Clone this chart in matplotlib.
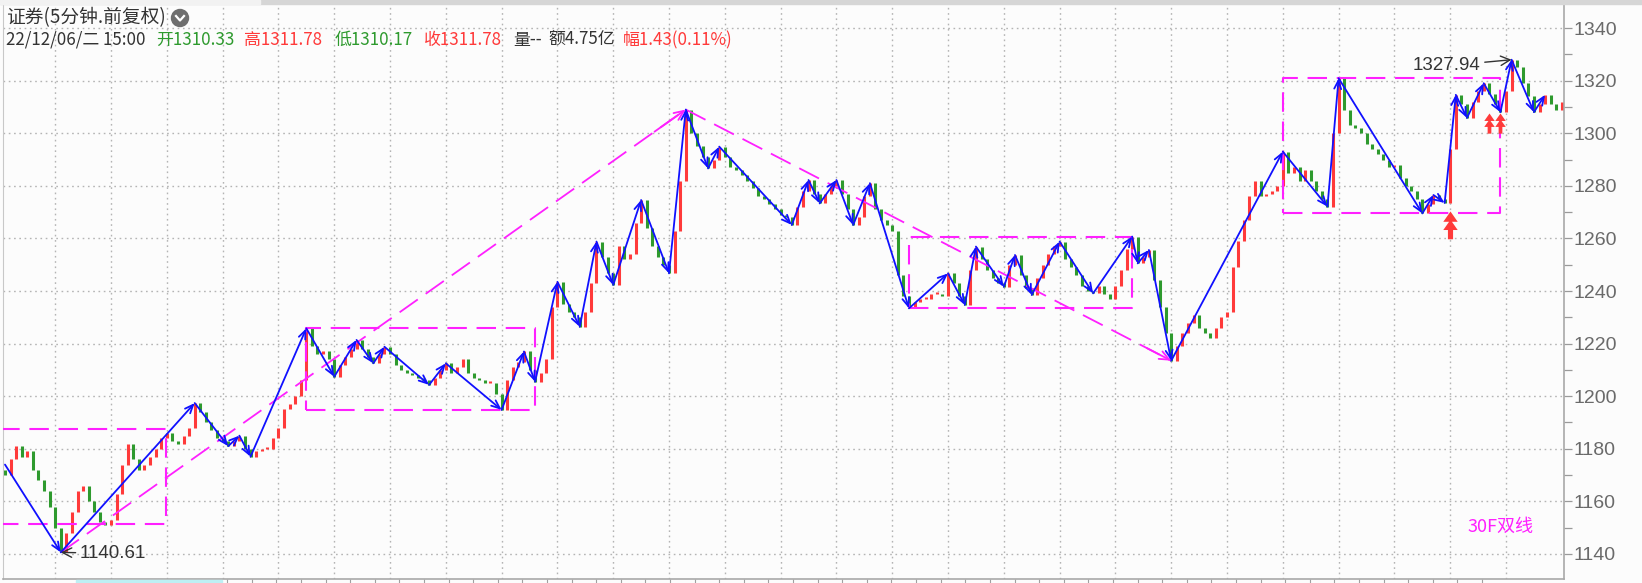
import numpy as np
import matplotlib
matplotlib.use("Agg")
import matplotlib.pyplot as plt
from matplotlib.path import Path
from matplotlib.patches import Circle, Rectangle
from matplotlib.lines import Line2D
from matplotlib.transforms import IdentityTransform

# ---------------- data ----------------
open0 = 1172.0
close = [
    1170, 1176, 1181, 1177, 1179, 1172, 1168, 1164, 1158, 1150,
    1140.61, 1148, 1156, 1164, 1166, 1160, 1156, 1152, 1151, 1153,
    1163, 1174, 1182, 1176, 1172, 1174, 1177, 1180, 1184, 1186,
    1183, 1182, 1185, 1188, 1197.4, 1194, 1190, 1187, 1184, 1183,
    1181, 1183, 1185, 1180, 1177, 1179, 1180, 1180, 1184, 1188,
    1195, 1197, 1200, 1206, 1225.8, 1219, 1216, 1217, 1214, 1207.4,
    1212, 1215, 1218, 1221.4, 1218, 1215, 1212.5, 1216, 1218.8, 1216,
    1212, 1210, 1209, 1208, 1207, 1206, 1204.3, 1207, 1210, 1212.5,
    1209, 1211, 1214, 1209, 1207, 1206, 1205, 1205, 1201, 1194.8,
    1206, 1211, 1213, 1217, 1210, 1205.5, 1209, 1214, 1234, 1243.5,
    1235, 1232, 1230, 1226.4, 1232, 1243, 1258.8, 1253, 1247, 1242.3,
    1257, 1252, 1254, 1266, 1274.6, 1264, 1257, 1253, 1250, 1246.7,
    1263, 1282, 1309, 1300, 1295, 1291, 1286.6, 1290, 1294.9, 1291,
    1287, 1286, 1284, 1282, 1279, 1276, 1275, 1273, 1271, 1269,
    1268, 1265.1, 1272, 1278, 1282.2, 1277, 1273.3, 1277, 1280, 1282.2,
    1277, 1271, 1265.1, 1268, 1276, 1281, 1271, 1267, 1265, 1263,
    1246, 1238, 1233.4, 1236, 1237, 1237, 1239, 1239, 1238, 1246.7,
    1243, 1238, 1234.7, 1248, 1256.9, 1252, 1248, 1245, 1243, 1241.6,
    1250, 1253.7, 1246, 1241, 1238.5, 1245, 1250, 1254, 1257, 1258.8,
    1252, 1249, 1246, 1242, 1240, 1239.1, 1242, 1239, 1237, 1242,
    1248, 1256, 1260.7, 1250.5, 1253, 1255.6, 1244, 1234, 1224, 1213.5,
    1219, 1224, 1228, 1231, 1226, 1224, 1222, 1226, 1230, 1232,
    1249, 1259, 1267, 1276, 1282, 1276, 1277, 1278, 1280, 1293,
    1285, 1287, 1282, 1286, 1282, 1278, 1275, 1272.1, 1300, 1320.9,
    1309, 1303, 1302, 1300, 1296, 1294, 1292, 1290, 1287, 1288,
    1283, 1280, 1278, 1275, 1269.5, 1273, 1276.5, 1275, 1273.5, 1294,
    1314.6, 1311, 1305.8, 1312, 1316, 1319, 1315, 1311, 1308, 1316,
    1327.94, 1325, 1319, 1314, 1308, 1311, 1314.6, 1311, 1309, 1311.78,
]

# zigzag ("bi") vertices: bar index, price
zz_idx = [0, 10, 34, 40, 42, 44, 54, 59, 63, 66, 68, 76, 79, 89, 93, 95, 99,
          103, 106, 109, 114, 119, 122, 126, 128, 141, 144, 146, 149, 152,
          155, 162, 169, 172, 174, 179, 181, 184, 189, 195, 202, 203, 205,
          209, 229, 237, 239, 254, 256, 258, 260, 262, 265, 268, 270, 274, 276]
zz_val = [1174, 1140.61, 1197.4, 1181, 1185, 1177, 1225.8, 1207.4, 1221.4,
          1212.5, 1218.8, 1204.3, 1212.5, 1194.8, 1217, 1205.5, 1243.5,
          1226.4, 1258.8, 1242.3, 1274.6, 1246.7, 1309, 1286.6, 1294.9,
          1265.1, 1282.2, 1273.3, 1282.2, 1265.1, 1281, 1233.4, 1246.7,
          1234.7, 1256.9, 1241.6, 1253.7, 1238.5, 1258.8, 1239.1, 1260.7,
          1250.5, 1255.6, 1213.5, 1293, 1272.1, 1320.9, 1269.5, 1276.5,
          1273.5, 1314.6, 1305.8, 1319, 1308, 1327.94, 1308, 1314.6]

# central pivot boxes
box_x0 = [-3, 54, 162, 229]
box_x1 = [28.9, 95, 202, 268]
box_lo = [1151.4, 1194.8, 1233.4, 1269.5]
box_hi = [1187.4, 1225.8, 1260.7, 1320.9]

# trend ("segment") lines
trend_idx = [10, 122, 209]
trend_val = [1140.61, 1309.0, 1213.5]

# buy signals
sig_idx = [259, 266, 268]
sig_val = [1270.5, 1307.5, 1307.5]
sig_big = [True, False, False]

# extreme labels
low_idx, low_val = 10, 1140.61
high_idx, high_val = 270, 1327.94

# header
title_txt = "证券(5分钟.前复权)"
hdr_time = "22/12/06/二 15:00"
hdr_open, hdr_high, hdr_low, hdr_close = "1310.33", "1311.78", "1310.17", "1311.78"
hdr_vol, hdr_amt, hdr_chg = "--", "4.75亿", "1.43(0.11%)"
indicator_name = "30F双线"

y_ticks = list(range(1140, 1341, 20))

# ---------------- style ----------------
RED = "#FF3A3A"
GREEN = "#2E9A2E"
BLUE = "#1010FF"
MAG = "#FF20FF"
TXT = "#333333"
BG = "#FCFCFC"

plt.rcParams["font.family"] = ["Liberation Sans", "DejaVu Sans"]
plt.rcParams["lines.scale_dashes"] = False
CJK = ["Noto Sans CJK SC", "DejaVu Sans"]

W, H = 1642, 583
fig = plt.figure(figsize=(W / 100, H / 100), dpi=100, facecolor=BG)
ax = fig.add_axes([3 / W, 4 / H, (1564 - 3) / W, (579 - 4) / H])
ax.set_facecolor(BG)
ax.set_xlim(-0.358, 279.39)
ax.set_ylim(1130.49, 1349.13)

# grid
for v in y_ticks:
    ax.axhline(v, color="#B4B4B4", lw=1.0, ls=(0, (1.2, 2.6)), zorder=0)
for b in range(9, 271, 10):
    ax.axvline(b, color="#B4B4B4", lw=1.0, ls=(0, (1.2, 2.6)), zorder=0)

# candles
close_a = np.array(close, dtype=float)
idx = np.arange(len(close_a))
opens = np.r_[open0, close_a[:-1]]
up = close_a >= opens
lo = np.minimum(opens, close_a)
hi = np.maximum(opens, close_a)
hi = np.where(hi - lo < 0.6, lo + 0.6, hi)
ax.vlines(idx[up], lo[up], hi[up], color=RED, lw=2.2, zorder=2)
ax.vlines(idx[~up], lo[~up], hi[~up], color=GREEN, lw=2.2, zorder=2)

# boxes
for x0, x1, y0, y1 in zip(box_x0, box_x1, box_lo, box_hi):
    ax.plot([x0, x1, x1, x0, x0], [y0, y0, y1, y1, y0], color=MAG, lw=1.5,
            ls=(0, (14, 7)), zorder=3, solid_capstyle="butt")

# trend lines with arrow heads
for i in range(len(trend_idx) - 1):
    xa, ya, xb, yb = trend_idx[i], trend_val[i], trend_idx[i + 1], trend_val[i + 1]
    ax.plot([xa, xb], [ya, yb], color=MAG, lw=1.3, ls=(0, (16, 7)), zorder=3)
    ax.annotate("", xy=(xb, yb), xytext=(xb - (xb - xa) * 0.05, yb - (yb - ya) * 0.05),
                arrowprops=dict(arrowstyle="->,head_length=0.7,head_width=0.3",
                                color=MAG, lw=1.3, shrinkA=0, shrinkB=0), zorder=3)

# zigzag with arrow heads
for i in range(len(zz_idx) - 1):
    ax.annotate("", xy=(zz_idx[i + 1], zz_val[i + 1]), xytext=(zz_idx[i], zz_val[i]),
                arrowprops=dict(arrowstyle="->,head_length=0.6,head_width=0.25",
                                color=BLUE, lw=1.3, shrinkA=0, shrinkB=0), zorder=4)

# signal markers (double up-arrow shape, anchored at its tip)
verts = [(0, 0), (7, -10), (-7, -10), (0, 0),
         (0, -8), (7, -18), (-7, -18), (0, -8),
         (-2.5, -18), (2.5, -18), (2.5, -27), (-2.5, -27), (-2.5, -18)]
codes = [Path.MOVETO, Path.LINETO, Path.LINETO, Path.CLOSEPOLY,
         Path.MOVETO, Path.LINETO, Path.LINETO, Path.CLOSEPOLY,
         Path.MOVETO, Path.LINETO, Path.LINETO, Path.LINETO, Path.CLOSEPOLY]
sig_path = Path(verts, codes)
for sx, sy, big in zip(sig_idx, sig_val, sig_big):
    ax.plot([sx], [sy], marker=sig_path, markersize=(40 if big else 29),
            color=RED, markeredgewidth=0, ls="none", zorder=5)

# extreme labels
ax.annotate(f"{low_val:.2f}", xy=(low_idx, low_val), xytext=(19, -1),
            textcoords="offset pixels", ha="left", va="center", fontsize=13.5,
            color=TXT, arrowprops=dict(arrowstyle="->,head_length=0.5,head_width=0.25",
                                       color=TXT, lw=1.0, shrinkA=1, shrinkB=0), zorder=6)
ax.annotate(f"{high_val:.2f}", xy=(high_idx, high_val), xytext=(-31, -6),
            textcoords="offset pixels", ha="right", va="center", fontsize=13.5,
            color=TXT, arrowprops=dict(arrowstyle="->,head_length=0.5,head_width=0.25",
                                       color=TXT, lw=1.0, shrinkA=1, shrinkB=0), zorder=6)

# axes styling
ax.yaxis.tick_right()
ax.set_yticks(y_ticks)
ax.set_yticks(list(range(1150, 1341, 20)), minor=True)
ax.tick_params(axis="y", which="both", direction="out", length=5.5, width=0.9,
               color="#9A9A9A", labelcolor="#6A6A6A", labelsize=14, pad=1.5)
ax.set_xticks(np.arange(39.8, 266.5, 4.41))
ax.tick_params(axis="x", which="both", direction="out", length=4, width=0.8,
               color="#A0A0A0", labelbottom=False)
for s in ["right", "bottom"]:
    ax.spines[s].set_color("#A8A8A8")
    ax.spines[s].set_linewidth(1.2)
ax.spines["left"].set_color("#C8C8C8")
ax.spines["top"].set_visible(False)


def ftext(x, y, s, **kw):
    fig.text(x / W, 1 - y / H, s, va="center", ha="left", **kw)


# indicator name
ftext(1467, 527, indicator_name, color=MAG, fontsize=13, family=CJK)

# header
ftext(6, 18, title_txt, color=TXT, fontsize=13.5, family=CJK)
fig.add_artist(Circle((180, H - 18), 8.5, transform=IdentityTransform(),
                      color="#6E6E6E", zorder=10))
fig.add_artist(Line2D([176, 180, 184], [H - 16, H - 20.5, H - 16], color="white",
                      lw=1.6, transform=IdentityTransform(), zorder=11))
parts = [(6, hdr_time, TXT), (156, "开" + hdr_open, GREEN), (244, "高" + hdr_high, RED),
         (335, "低" + hdr_low, GREEN), (424, "收" + hdr_close, RED),
         (513, "量" + hdr_vol, TXT), (548, "额" + hdr_amt, TXT), (623, "幅" + hdr_chg, RED)]
for x, s, c in parts:
    ftext(x, 40, s, color=c, fontsize=12.2, family=CJK)

# top tab strip and bottom highlight
fig.add_artist(Rectangle((0, H - 4), W, 4, transform=IdentityTransform(),
                         color="#D6D6D6", zorder=9))
fig.add_artist(Rectangle((0, H - 4), 260, 4, transform=IdentityTransform(),
                         color="#F2F2F2", zorder=9))
fig.add_artist(Rectangle((76, 0), 146, 3, transform=IdentityTransform(),
                         color="#BDEFF4", zorder=9))

fig.savefig("out.png", dpi=100, facecolor=BG)
